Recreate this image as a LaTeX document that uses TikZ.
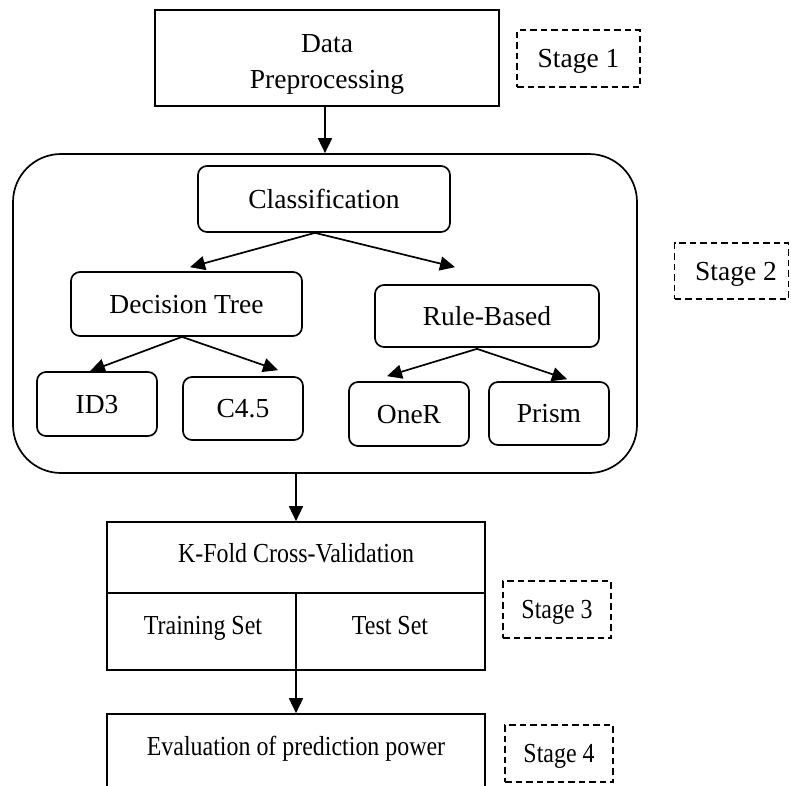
\documentclass[tikz,border=0pt]{standalone}
\usepackage{graphicx}
\usepackage{fontspec}
\setmainfont{Liberation Serif}
\usetikzlibrary{arrows.meta,calc}
\newcommand{\cnd}[1]{\scalebox{0.87}[1]{#1}}
\begin{document}
\begin{tikzpicture}[x=1pt,y=-1pt,line width=1.7pt,
  every node/.style={font=\fontsize{27.5}{33}\selectfont,inner sep=0pt},
  txt/.style={text height=18.5pt,text depth=0pt},
  sqbox/.style={draw,rectangle},
  rbox/.style={draw,rectangle,rounded corners=9pt,txt},
  stagebox/.style={draw,rectangle,dash pattern=on 6.5pt off 4pt,txt},
  arr/.style={-{Triangle[length=15pt,width=14pt]}}]
\useasboundingbox (0,0) rectangle (791,785);
\clip (0,0) rectangle (791,785);
% Stage 1
\node[sqbox,minimum width=344pt,minimum height=96pt] (dp) at (327,58) {};
\node[align=center,font=\fontsize{27.5}{36}\selectfont] (dptext) at (327,64) {Data\\Preprocessing};
\node[stagebox,minimum width=123pt,minimum height=57pt] (s1) at (578.5,58.5) {Stage 1};
% Stage 2
\node[draw,rectangle,rounded corners=48pt,minimum width=624pt,minimum height=319pt] (s2c) at (325,313.5) {};
\node[rbox,minimum width=252pt,minimum height=66pt] (cl) at (324,199) {Classification};
\node[rbox,minimum width=231pt,minimum height=64pt] (dt) at (186.5,304) {Decision Tree};
\node[rbox,minimum width=120pt,minimum height=64pt] (id3) at (97,404) {ID3};
\node[rbox,minimum width=120pt,minimum height=63pt] (c45) at (243,408.5) {C4.5};
\node[rbox,minimum width=224pt,minimum height=62pt] (rb) at (487,316) {Rule-Based};
\node[rbox,minimum width=120pt,minimum height=64pt] (oner) at (409,414) {OneR};
\node[rbox,minimum width=120pt,minimum height=63pt] (prism) at (549,413.5) {Prism};
\node[stagebox,minimum width=114pt,minimum height=56pt] (s2) at (731.5,271) {\hspace*{9pt}Stage 2};
% Stage 3
\node[sqbox,minimum width=378pt,minimum height=148pt] (kf) at (296,596) {};
\node[txt] (kft) at (296,553) {\cnd{K-Fold Cross-Validation}};
\node[txt] (trt) at (203,625) {\cnd{Training Set}};
\node[txt] (tst) at (390,625) {\cnd{Test Set}};
\node[stagebox,minimum width=108pt,minimum height=57pt] (s3) at (557,609.5) {\cnd{Stage 3}};
% Stage 4
\node[sqbox,minimum width=378pt,minimum height=92pt] (ev) at (296,760) {};
\node[txt] (evt) at (296,746) {\cnd{Evaluation of prediction power}};
\node[stagebox,minimum width=108pt,minimum height=57pt] (s4) at (559,753.5) {\cnd{Stage 4}};
% connectors
\draw[arr] (s2c.north |- dp.south) -- (s2c.north);
\draw[arr] ($(cl.south)+(-9,0)$) -- ($(dt.north)+(3.5,-4)$);
\draw[arr] ($(cl.south)+(-9,0)$) -- ($(rb.north)+(-32,-17)$);
\draw[arr] ($(dt.south)+(-4.5,0)$) -- ($(id3.north)+(-7,0)$);
\draw[arr] ($(dt.south)+(-4.5,0)$) -- ($(c45.north)+(35,-6)$);
\draw[arr] ($(rb.south)+(-10,1)$) -- ($(oner.north)+(-22,-5)$);
\draw[arr] ($(rb.south)+(-10,1)$) -- ($(prism.north)+(18,-2)$);
\draw[arr] (kf.north |- s2c.south) -- (kf.north);
\draw ($(kf.north west)+(0,72)$) -- ($(kf.north east)+(0,72)$);
\draw[arr] ($(kf.north)+(0,72)$) -- (ev.north);
\end{tikzpicture}
\end{document}
